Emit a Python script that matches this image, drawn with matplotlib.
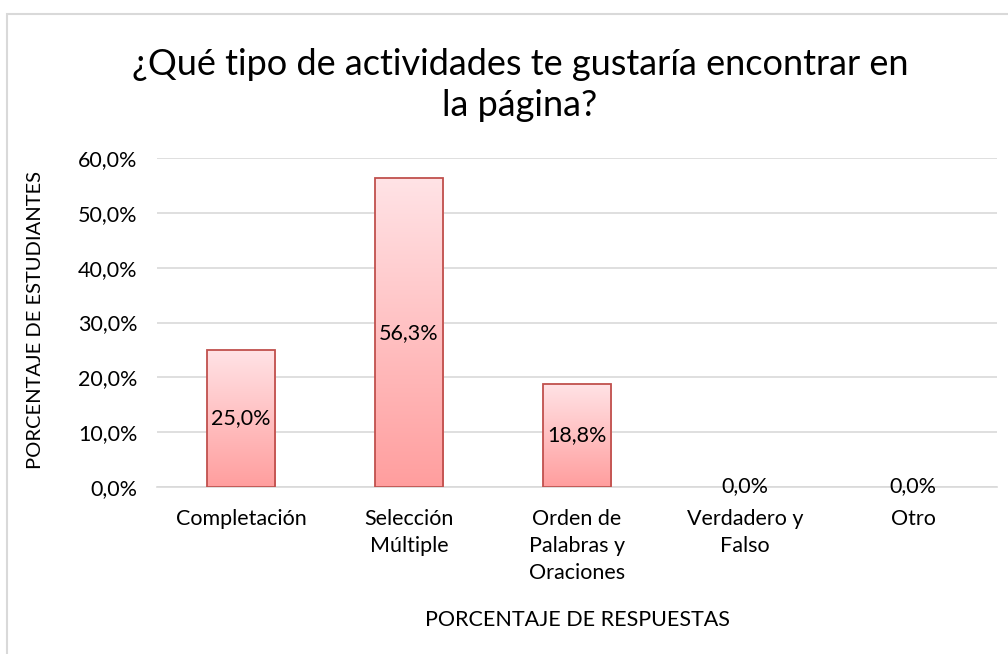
import numpy as np
import matplotlib.pyplot as plt
from matplotlib.patches import Rectangle
from matplotlib.colors import LinearSegmentedColormap

categories = ["Completación", "Selección\nMúltiple", "Orden de\nPalabras y\nOraciones",
              "Verdadero y\nFalso", "Otro"]
values = [25.0, 56.3, 18.8, 0.0, 0.0]
yticks = [0, 10, 20, 30, 40, 50, 60]

plt.rcParams['font.family'] = ['Lato', 'DejaVu Sans']

W, H = 1008, 654
fig = plt.figure(figsize=(W / 100, H / 100), dpi=100)
ax = fig.add_axes([157 / W, 1 - 487 / H, (997 - 157) / W, (487 - 158) / H])

# chart border
fig.patches.append(Rectangle((7 / W, -0.1), 1.2, 1 - 14 / H + 0.1, transform=fig.transFigure,
                             fill=False, edgecolor="#D9D9D9", linewidth=1.5))

x = np.arange(len(categories))
edges = ["#C0504D" if v > 0 else "none" for v in values]
bars = ax.bar(x, values, width=0.41, color="none", edgecolor=edges, linewidth=1.3, zorder=3)

cmap = LinearSegmentedColormap.from_list("pinkgrad", ["#FF9E9E", "#FFE3E6"])
grad = np.linspace(0, 1, 256).reshape(-1, 1)
for b in bars:
    if b.get_height() <= 0:
        continue
    im = ax.imshow(grad, cmap=cmap, origin="lower", aspect="auto", zorder=2,
                   extent=[b.get_x(), b.get_x() + b.get_width(), 0, b.get_height()])
    im.set_clip_path(b)

fs = 15.5
for xi, v in zip(x, values):
    label = f"{v:.1f}%".replace(".", ",")
    ax.text(xi, v / 2 if v > 0 else 0.1, label, ha="center", va="center", fontsize=fs, zorder=4)

ax.set_xlim(-0.5, len(categories) - 0.5)
ax.set_ylim(0, 60)
ax.set_yticks(yticks)
ax.set_yticklabels([f"{t:.1f}%".replace(".", ",") for t in yticks], fontsize=fs)
ax.set_xticks(x)
ax.set_xticklabels(categories, fontsize=fs, linespacing=1.42, va="top")
ax.tick_params(length=0)
ax.tick_params(axis="y", pad=14)
ax.tick_params(axis="x", pad=16)
ax.grid(axis="y", color="#D9D9D9", linewidth=1.2, zorder=0)
for s in ["top", "right", "left"]:
    ax.spines[s].set_visible(False)
ax.spines["bottom"].set_color("#D9D9D9")
ax.spines["bottom"].set_linewidth(1.2)
ax.set_axisbelow(True)

ax.set_ylabel("PORCENTAJE DE ESTUDIANTES", fontsize=14.5)
ax.yaxis.set_label_coords(-0.135, 0.507)
ax.set_xlabel("PORCENTAJE DE RESPUESTAS", fontsize=fs)
ax.xaxis.set_label_coords(0.5, -0.375)

fig.text(520 / W, 1 - 85 / H, "¿Qué tipo de actividades te gustaría encontrar en\nla página?",
         ha="center", va="center", fontsize=26, linespacing=1.3)

fig.savefig("out.png", dpi=100)
plt.close(fig)
